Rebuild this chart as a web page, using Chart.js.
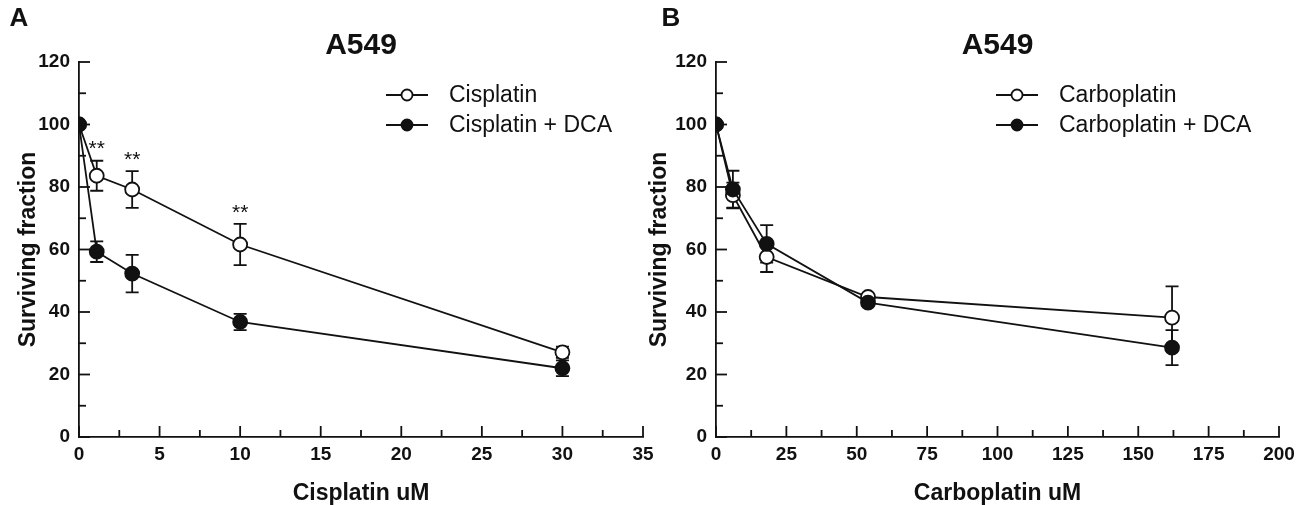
<!DOCTYPE html>
<html>
<head>
<meta charset="utf-8">
<script src="https://cdn.jsdelivr.net/npm/chart.js@4/dist/chart.umd.min.js"></script>
<style>
  html, body { margin: 0; padding: 0; background: #fff; }
  #wrap { position: relative; width: 1305px; height: 505px; overflow: hidden; }
  #boxA { position: absolute; left: 0; top: 0; width: 660px; height: 505px; }
  #boxB { position: absolute; left: 640px; top: 0; width: 665px; height: 505px; }
</style>
</head>
<body>
<div id="wrap">
  <div id="boxA"><canvas id="chartA"></canvas></div>
  <div id="boxB"><canvas id="chartB"></canvas></div>
</div>
<script>
// Panel A - cisplatin
var cisDose = [0, 1.1, 3.3, 10, 30];
var cisAlone = [100, 83.6, 79.2, 61.6, 27.1];
var cisAloneErr = [0, 4.8, 5.9, 6.6, 1.8];
var cisDca = [100, 59.3, 52.3, 36.8, 22.0];
var cisDcaErr = [0, 3.3, 6.0, 2.6, 2.5];
var starDose = [1.1, 3.3, 10];
var starLevel = [94, 90.5, 73.5];

// Panel B - carboplatin
var carboDose = [0, 6, 18, 54, 162];
var carboAlone = [100, 77.4, 57.6, 44.8, 38.2];
var carboAloneErr = [0, 4, 4.8, 1, 10];
var carboDca = [100, 79.2, 61.8, 43, 28.6];
var carboDcaErr = [0, 6, 6, 1, 5.6];

var yTicks = [0, 20, 40, 60, 80, 100, 120];

var FONT = '"Liberation Sans", Arial, sans-serif';
var INK = '#111';

function toPoints(xs, ys) {
  return xs.map(function(x, i) { return { x: x, y: ys[i] }; });
}

// error bars go under the markers
var errorBars = {
  id: 'errorBars',
  beforeDatasetsDraw: function(chart) {
    var ctx = chart.ctx, xs = chart.scales.x, ys = chart.scales.y;
    ctx.save();
    ctx.strokeStyle = INK;
    ctx.lineWidth = 1.8;
    chart.data.datasets.forEach(function(ds) {
      ds.data.forEach(function(p, i) {
        var e = ds.errors[i];
        if (!e) return;
        var px = xs.getPixelForValue(p.x);
        var top = ys.getPixelForValue(p.y + e);
        var bot = ys.getPixelForValue(p.y - e);
        ctx.beginPath();
        ctx.moveTo(px, top); ctx.lineTo(px, bot);
        ctx.moveTo(px - 6.5, top); ctx.lineTo(px + 6.5, top);
        ctx.moveTo(px - 6.5, bot); ctx.lineTo(px + 6.5, bot);
        ctx.stroke();
      });
    });
    ctx.restore();
  }
};

// inward ticks, legend, titles, stars
var decorations = {
  id: 'decorations',
  afterDraw: function(chart, args, o) {
    var ctx = chart.ctx, xs = chart.scales.x, ys = chart.scales.y, area = chart.chartArea;
    ctx.save();
    ctx.strokeStyle = INK;
    ctx.lineWidth = 1.8;

    // y ticks (pointing right into the plot)
    var n = Math.round((ys.max - ys.min) / o.yMinor);
    for (var k = 0; k <= n; k++) {
      var py = ys.getPixelForValue(ys.min + k * o.yMinor);
      var len = k % 2 === 0 ? 11 : 7;
      ctx.beginPath();
      ctx.moveTo(area.left, py); ctx.lineTo(area.left + len, py);
      ctx.stroke();
    }
    // x ticks (pointing up into the plot)
    n = Math.round((xs.max - xs.min) / o.xMinor);
    for (k = 0; k <= n; k++) {
      var px = xs.getPixelForValue(xs.min + k * o.xMinor);
      len = k % 2 === 0 ? 11 : 7;
      ctx.beginPath();
      ctx.moveTo(px, area.bottom); ctx.lineTo(px, area.bottom - len);
      ctx.stroke();
    }

    // legend
    ctx.font = '23px ' + FONT;
    ctx.textBaseline = 'middle';
    ctx.textAlign = 'left';
    ctx.fillStyle = INK;
    chart.data.datasets.forEach(function(ds, i) {
      var ry = o.legendY[i];
      ctx.beginPath();
      ctx.moveTo(o.legendX, ry); ctx.lineTo(o.legendX + 42, ry);
      ctx.stroke();
      ctx.beginPath();
      ctx.arc(o.legendX + 21, ry, 5.5, 0, Math.PI * 2);
      ctx.fillStyle = ds.pointBackgroundColor;
      ctx.fill();
      ctx.stroke();
      ctx.fillStyle = INK;
      ctx.fillText(ds.label, o.legendX + 63, ry + 1);
    });

    // significance stars
    if (o.starX) {
      ctx.font = '21px ' + FONT;
      ctx.textAlign = 'center';
      ctx.textBaseline = 'alphabetic';
      o.starX.forEach(function(x, i) {
        ctx.fillText('**', xs.getPixelForValue(x), ys.getPixelForValue(o.starY[i]) + 12);
      });
    }

    // chart title and panel letter
    ctx.textBaseline = 'middle';
    ctx.textAlign = 'center';
    ctx.font = 'bold 30px ' + FONT;
    ctx.fillText(o.title, (area.left + area.right) / 2, 46);
    ctx.font = 'bold 26px ' + FONT;
    ctx.fillText(o.letter, o.letterX, 19);
    ctx.restore();
  }
};

function makeChart(id, cfg) {
  var yWidth = cfg.yWidth;
  return new Chart(document.getElementById(id), {
    type: 'scatter',
    data: {
      datasets: [
        {
          label: cfg.names[0],
          data: toPoints(cfg.dose, cfg.alone),
          errors: cfg.aloneErr,
          showLine: true,
          borderColor: INK,
          borderWidth: 1.8,
          pointRadius: 7,
          pointBorderWidth: 1.8,
          pointBorderColor: INK,
          pointBackgroundColor: '#fff',
          order: 1
        },
        {
          label: cfg.names[1],
          data: toPoints(cfg.dose, cfg.dca),
          errors: cfg.dcaErr,
          showLine: true,
          borderColor: INK,
          borderWidth: 1.8,
          pointRadius: 7,
          pointBorderWidth: 1.8,
          pointBorderColor: INK,
          pointBackgroundColor: INK,
          order: 0
        }
      ]
    },
    options: {
      responsive: true,
      maintainAspectRatio: false,
      animation: false,
      layout: { padding: { left: 0, top: 62, right: cfg.padRight, bottom: 0 } },
      plugins: {
        legend: { display: false },
        tooltip: { enabled: false },
        decorations: {
          yMinor: 10,
          xMinor: cfg.xMinor,
          legendX: cfg.legendX,
          legendY: [95, 125],
          title: 'A549',
          letter: cfg.letter,
          letterX: cfg.letterX,
          starX: cfg.starX,
          starY: cfg.starY
        }
      },
      scales: {
        x: {
          type: 'linear',
          min: 0,
          max: cfg.xMax,
          grid: { display: false, drawTicks: false },
          border: { display: true, color: INK, width: 1.8 },
          ticks: {
            stepSize: cfg.xStep,
            padding: 6,
            color: INK,
            font: { family: FONT, size: 19, weight: 'bold' }
          },
          title: {
            display: true,
            text: cfg.xTitle,
            color: INK,
            padding: { top: 0, bottom: 0 },
            font: { family: FONT, size: 23, weight: 'bold', lineHeight: 1 }
          },
          afterFit: function(scale) { scale.height = 68; }
        },
        y: {
          min: 0,
          max: 120,
          grid: { display: false, drawTicks: false },
          border: { display: true, color: INK, width: 1.8 },
          afterBuildTicks: function(scale) {
            scale.ticks = yTicks.map(function(v) { return { value: v }; });
          },
          ticks: {
            padding: 9,
            color: INK,
            font: { family: FONT, size: 19, weight: 'bold' }
          },
          title: {
            display: true,
            text: 'Surviving fraction',
            color: INK,
            padding: { top: cfg.yTitlePad, bottom: 0 },
            font: { family: FONT, size: 23, weight: 'bold' }
          },
          afterFit: function(scale) { scale.width = yWidth; }
        }
      }
    },
    plugins: [errorBars, decorations]
  });
}

makeChart('chartA', {
  dose: cisDose, alone: cisAlone, aloneErr: cisAloneErr, dca: cisDca, dcaErr: cisDcaErr,
  names: ['Cisplatin', 'Cisplatin + DCA'],
  xMax: 35, xStep: 5, xMinor: 2.5, xTitle: 'Cisplatin uM',
  yWidth: 79, yTitlePad: 15, padRight: 17,
  legendX: 386, letter: 'A', letterX: 19,
  starX: starDose, starY: starLevel
});

makeChart('chartB', {
  dose: carboDose, alone: carboAlone, aloneErr: carboAloneErr, dca: carboDca, dcaErr: carboDcaErr,
  names: ['Carboplatin', 'Carboplatin + DCA'],
  xMax: 200, xStep: 25, xMinor: 12.5, xTitle: 'Carboplatin uM',
  yWidth: 76, yTitlePad: 6, padRight: 26,
  legendX: 356, letter: 'B', letterX: 31,
  starX: null, starY: null
});
</script>
</body>
</html>
